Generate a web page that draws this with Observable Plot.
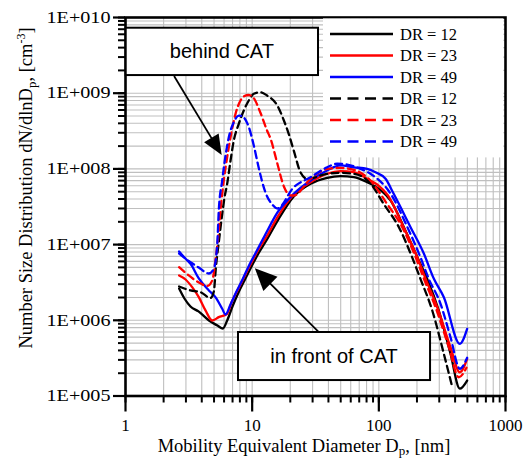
<!DOCTYPE html>
<html><head><meta charset="utf-8">
<script src="https://cdn.jsdelivr.net/npm/d3@7"></script>
<script src="https://cdn.jsdelivr.net/npm/@observablehq/plot@0.6"></script>
<style>
body{margin:0;background:#fff;}
#chart{width:524px;height:459px;}
#chart svg text, #chart svg tspan{font-family:"Liberation Serif","DejaVu Serif",serif;}
#chart svg text.sans{font-family:"Liberation Sans",Arial,sans-serif;}
</style></head><body><div id="chart"></div>
<script>
// ---------- data ----------
// in front of CAT (solid)
const dpFront12 = [2.65, 2.92, 3.26, 3.77, 4.56, 5.32, 5.87, 6.35, 6.99, 7.80, 8.70, 9.88, 11.2, 13.2, 16.2, 21.3, 28.9, 39.1, 49.8, 63.4, 80.9, 103, 124, 162, 207, 241, 297, 368, 436, 498];
const nFront12  = [2.63e6, 1.94e6, 1.52e6, 1.31e6, 9.94e5, 8.53e5, 7.79e5, 9.94e5, 1.52e6, 2.33e6, 3.36e6, 5.14e6, 7.63e6, 1.20e7, 2.19e7, 4.32e7, 6.36e7, 7.63e7, 8.01e7, 7.77e7, 6.67e7, 5.26e7, 3.82e7, 1.54e7, 6.17e6, 3.53e6, 1.35e6, 3.61e5, 1.25e5, 1.60e5];
const dpFront23 = [2.65, 2.98, 3.36, 3.79, 4.28, 4.84, 5.45, 6.35, 6.87, 7.66, 8.54, 9.70, 11.0, 13.0, 16.1, 21.3, 28.9, 39.1, 49.8, 63.4, 80.9, 97, 118, 157, 201, 234, 289, 368, 436, 498];
const nFront23  = [3.91e6, 3.46e6, 2.74e6, 2.02e6, 1.35e6, 9.94e5, 1.10e6, 1.22e6, 1.72e6, 2.48e6, 3.57e6, 5.46e6, 8.11e6, 1.28e7, 2.42e7, 4.6e7, 6.67e7, 8.62e7, 9.32e7, 9.04e7, 7.40e7, 6.22e7, 4.45e7, 1.70e7, 6.82e6, 3.53e6, 1.49e6, 4.41e5, 2.06e5, 3.10e5];
const dpFront49 = [2.65, 2.98, 3.26, 3.79, 4.55, 5.13, 5.80, 6.16, 6.75, 7.52, 8.39, 9.53, 10.8, 12.7, 15.85, 21.3, 28.9, 39.1, 49.8, 63.4, 80.9, 94.1, 113, 131, 178, 227, 272, 326, 436, 498];
const nFront49  = [8.11e6, 6.49e6, 5.58e6, 3.57e6, 2.48e6, 2.02e6, 1.42e6, 1.19e6, 1.62e6, 2.40e6, 3.46e6, 5.46e6, 8.11e6, 1.36e7, 2.66e7, 4.69e7, 7.03e7, 9.53e7, 1.11e8, 1.05e8, 1.00e8, 9.04e7, 7.40e7, 4.69e7, 1.70e7, 7.56e6, 3.53e6, 2.02e6, 4.89e5, 7.72e5];
// behind CAT (dashed)
const dpBehind12 = [2.65, 3.26, 3.91, 4.69, 4.98, 5.18, 5.47, 5.78, 6.05, 6.35, 6.75, 7.16, 7.84, 8.59, 9.41, 10.3, 11.6, 13.1, 15.8, 17.8, 19.4, 21.3, 24.1, 27.2, 39.1, 49.8, 63.4, 85.9, 109, 144, 183, 213, 264, 326, 380];
const nBehind12  = [2.80e6, 2.48e6, 2.35e6, 1.97e6, 2.40e6, 5.14e6, 1.13e7, 2.42e7, 4.19e7, 6.36e7, 1.29e8, 2.37e8, 3.94e8, 5.91e8, 8.01e8, 9.82e8, 1.03e9, 9.32e8, 6.88e8, 4.36e8, 2.93e8, 1.75e8, 8.96e7, 7.40e7, 8.62e7, 8.88e7, 8.62e7, 6.42e7, 3.46e7, 1.70e7, 6.82e6, 3.53e6, 1.35e6, 3.61e5, 1.31e5];
const dpBehind23 = [2.65, 3.16, 3.79, 4.42, 4.84, 5.13, 5.45, 5.62, 5.97, 6.35, 6.75, 7.39, 8.09, 8.70, 9.35, 10.2, 11.6, 13.1, 13.95, 15.8, 17.8, 20.1, 21.3, 28.9, 39.1, 49.8, 63.4, 82.9, 116, 153, 195, 227, 280, 357, 428, 492];
const nBehind23  = [5.03e6, 3.91e6, 3.16e6, 2.84e6, 3.36e6, 6.17e6, 1.54e7, 2.82e7, 7.03e7, 1.43e8, 2.62e8, 5.34e8, 8.01e8, 9.18e8, 9.47e8, 8.78e8, 5.56e8, 3.22e8, 2.52e8, 1.18e8, 5.86e7, 4.45e7, 4.45e7, 7.40e7, 1.00e8, 1.03e8, 9.73e7, 7.47e7, 3.46e7, 1.70e7, 6.82e6, 3.53e6, 1.49e6, 4.41e5, 1.77e5, 2.36e5];
const dpBehind49 = [2.65, 3.26, 3.79, 4.55, 4.98, 5.30, 5.45, 5.80, 6.08, 6.54, 7.16, 7.84, 8.24, 8.59, 9.41, 10.3, 11.3, 12.7, 14.4, 15.8, 21.3, 28.9, 39.1, 46.9, 56.3, 71.7, 85.9, 124, 168, 213, 248, 307, 368, 436, 498];
const nBehind49  = [7.63e6, 5.85e6, 4.98e6, 4.15e6, 4.79e6, 1.02e7, 2.82e7, 7.03e7, 1.29e8, 2.62e8, 4.14e8, 5.07e8, 5.00e8, 4.78e8, 3.56e8, 2.04e8, 1.01e8, 4.95e7, 3.39e7, 3.00e7, 5.73e7, 7.77e7, 1.05e8, 1.17e8, 1.14e8, 1.00e8, 8.62e7, 4.69e7, 1.70e7, 6.82e6, 3.53e6, 1.65e6, 5.98e5, 2.29e5, 3.20e5];

const legendLabels = ["DR = 12", "DR = 23", "DR = 49", "DR = 12", "DR = 23", "DR = 49"];
const xTickValues = [1, 10, 100, 1000];
const xTickLabels = ["1", "10", "100", "1000"];
const yTickValues = [1e5, 1e6, 1e7, 1e8, 1e9, 1e10];
const yTickLabels = ["1E+005", "1E+006", "1E+007", "1E+008", "1E+009", "1E+010"];
const annotationTexts = ["behind CAT", "in front of CAT"];

// ---------- styling ----------
const seriesList = [
  {dp: dpFront12, n: nFront12, color: "#000000", dashed: false},
  {dp: dpFront23, n: nFront23, color: "#ff0000", dashed: false},
  {dp: dpFront49, n: nFront49, color: "#0000ff", dashed: false},
  {dp: dpBehind12, n: nBehind12, color: "#000000", dashed: true},
  {dp: dpBehind23, n: nBehind23, color: "#ff0000", dashed: true},
  {dp: dpBehind49, n: nBehind49, color: "#0000ff", dashed: true}
];

const xMinor = []; for (let e = 0; e < 3; e++) for (let m = 1; m <= 9; m++) xMinor.push(m * Math.pow(10, e)); xMinor.push(1000);
const yMinor = []; for (let e = 5; e < 10; e++) for (let m = 1; m <= 9; m++) yMinor.push(m * Math.pow(10, e)); yMinor.push(1e10);

const lineMarks = seriesList.map(s => {
  const rows = s.dp.map((d, i) => ({d, v: s.n[i]}));
  return Plot.line(rows, {x: "d", y: "v", stroke: s.color, strokeWidth: 2.3,
    strokeDasharray: s.dashed ? "7,4.5" : null, curve: "monotone-x"});
});

const plot = Plot.plot({
  width: 524, height: 459,
  marginLeft: 125, marginRight: 19, marginTop: 17, marginBottom: 63.5,
  x: {type: "log", domain: [1, 1000]},
  y: {type: "log", domain: [1e5, 1e10]},
  style: {background: "white", color: "black", overflow: "visible"},
  marks: [
    Plot.gridX(xMinor, {stroke: "#bfbfbf", strokeOpacity: 1, strokeWidth: 1.1}),
    Plot.gridY(yMinor, {stroke: "#bfbfbf", strokeOpacity: 1, strokeWidth: 1.1}),
    ...lineMarks,
    Plot.axisX(xMinor, {tickSize: 7, tickFormat: () => "", label: null, strokeWidth: 2}),
    Plot.axisX(xTickValues, {tickSize: 16, tickPadding: 7, tickFormat: d => xTickLabels[xTickValues.indexOf(d)], fontSize: 17, label: null, strokeWidth: 2.2}),
    Plot.axisY(yMinor, {tickSize: 7, tickFormat: () => "", label: null, strokeWidth: 2}),
    Plot.axisY(yTickValues, {tickSize: 12, tickPadding: 3, tickFormat: d => yTickLabels[yTickValues.indexOf(d)], fontSize: 16.5, label: null, strokeWidth: 2.2}),
    Plot.frame({stroke: "black", strokeWidth: 2.6})
  ]
});
document.getElementById("chart").appendChild(plot);

const svg = d3.select(plot);
const sx = plot.scale("x"), sy = plot.scale("y");
const px = v => sx.apply(v), py = v => sy.apply(v);

// the reference's y tick labels are drawn wider than a plain serif face
svg.selectAll("text").filter(function () { return yTickLabels.includes(this.textContent); })
  .attr("textLength", 64).attr("lengthAdjust", "spacingAndGlyphs");

// axis titles
const xt = svg.append("text").attr("x", 304).attr("y", 452).attr("text-anchor", "middle")
  .attr("font-size", 18.5).attr("fill", "black");
xt.append("tspan").text("Mobility Equivalent Diameter D");
xt.append("tspan").attr("dy", 3).attr("font-size", 13).text("p");
xt.append("tspan").attr("dy", -3).text(", [nm]");

const yt = svg.append("text").attr("transform", "translate(32,188) rotate(-90)").attr("text-anchor", "middle")
  .attr("font-size", 18.5).attr("fill", "black");
yt.append("tspan").text("Number Size Distribution dN/dlnD");
yt.append("tspan").attr("dy", 4).attr("font-size", 13).text("p");
yt.append("tspan").attr("dy", -4).text(", [cm");
yt.append("tspan").attr("dy", -7).attr("font-size", 12).text("-3");
yt.append("tspan").attr("dy", 7).text("]");

// legend
const lg = svg.append("g");
lg.append("rect").attr("x", 323).attr("y", 18.4).attr("width", 180.3).attr("height", 139).attr("fill", "white");
legendLabels.forEach((lab, i) => {
  const s = seriesList[i];
  const yy = 34 + i * 21.5;
  lg.append("line").attr("x1", 330).attr("x2", 393).attr("y1", yy).attr("y2", yy)
    .attr("stroke", s.color).attr("stroke-width", 2.6).attr("stroke-dasharray", s.dashed ? "11,6.5" : null);
  lg.append("text").attr("x", 400).attr("y", yy + 5.6).attr("text-anchor", "start").attr("font-size", 16.5)
    .attr("fill", "black").text(lab);
});

// annotations (box corners and arrows given in data space)
const annotations = [
  {text: annotationTexts[0], x1: 1.013, x2: 33.4, y1: 7.22e9, y2: 1.71e9,
   from: [2.44, 1.66e9], to: [5.80, 1.50e8], headLen: 20, headHalf: 8.5},
  {text: annotationTexts[1], x1: 7.80, x2: 256, y1: 6.90e5, y2: 1.60e5,
   from: [33.6, 6.96e5], to: [10.6, 4.79e6], headLen: 22, headHalf: 10}
];
annotations.forEach(a => {
  const X1 = px(a.x1), X2 = px(a.x2), Y1 = py(a.y1), Y2 = py(a.y2);
  const fx = px(a.from[0]), fy = py(a.from[1]), tx = px(a.to[0]), ty = py(a.to[1]);
  const dx = tx - fx, dy = ty - fy, L = Math.hypot(dx, dy), ux = dx / L, uy = dy / L;
  const bx = tx - ux * a.headLen, by = ty - uy * a.headLen;
  svg.append("line").attr("x1", fx).attr("y1", fy).attr("x2", bx + ux * 2).attr("y2", by + uy * 2)
    .attr("stroke", "black").attr("stroke-width", 1.8);
  svg.append("path").attr("d", `M${tx},${ty}L${bx - uy * a.headHalf},${by + ux * a.headHalf}L${bx + uy * a.headHalf},${by - ux * a.headHalf}Z`)
    .attr("fill", "black");
  svg.append("rect").attr("x", X1).attr("y", Y1).attr("width", X2 - X1).attr("height", Y2 - Y1)
    .attr("fill", "white").attr("stroke", "black").attr("stroke-width", 2);
  svg.append("text").attr("class", "sans").attr("x", (X1 + X2) / 2).attr("y", (Y1 + Y2) / 2 + 6.5).attr("text-anchor", "middle")
    .attr("font-size", 20).attr("fill", "black").text(a.text);
});
</script>
</body></html>
